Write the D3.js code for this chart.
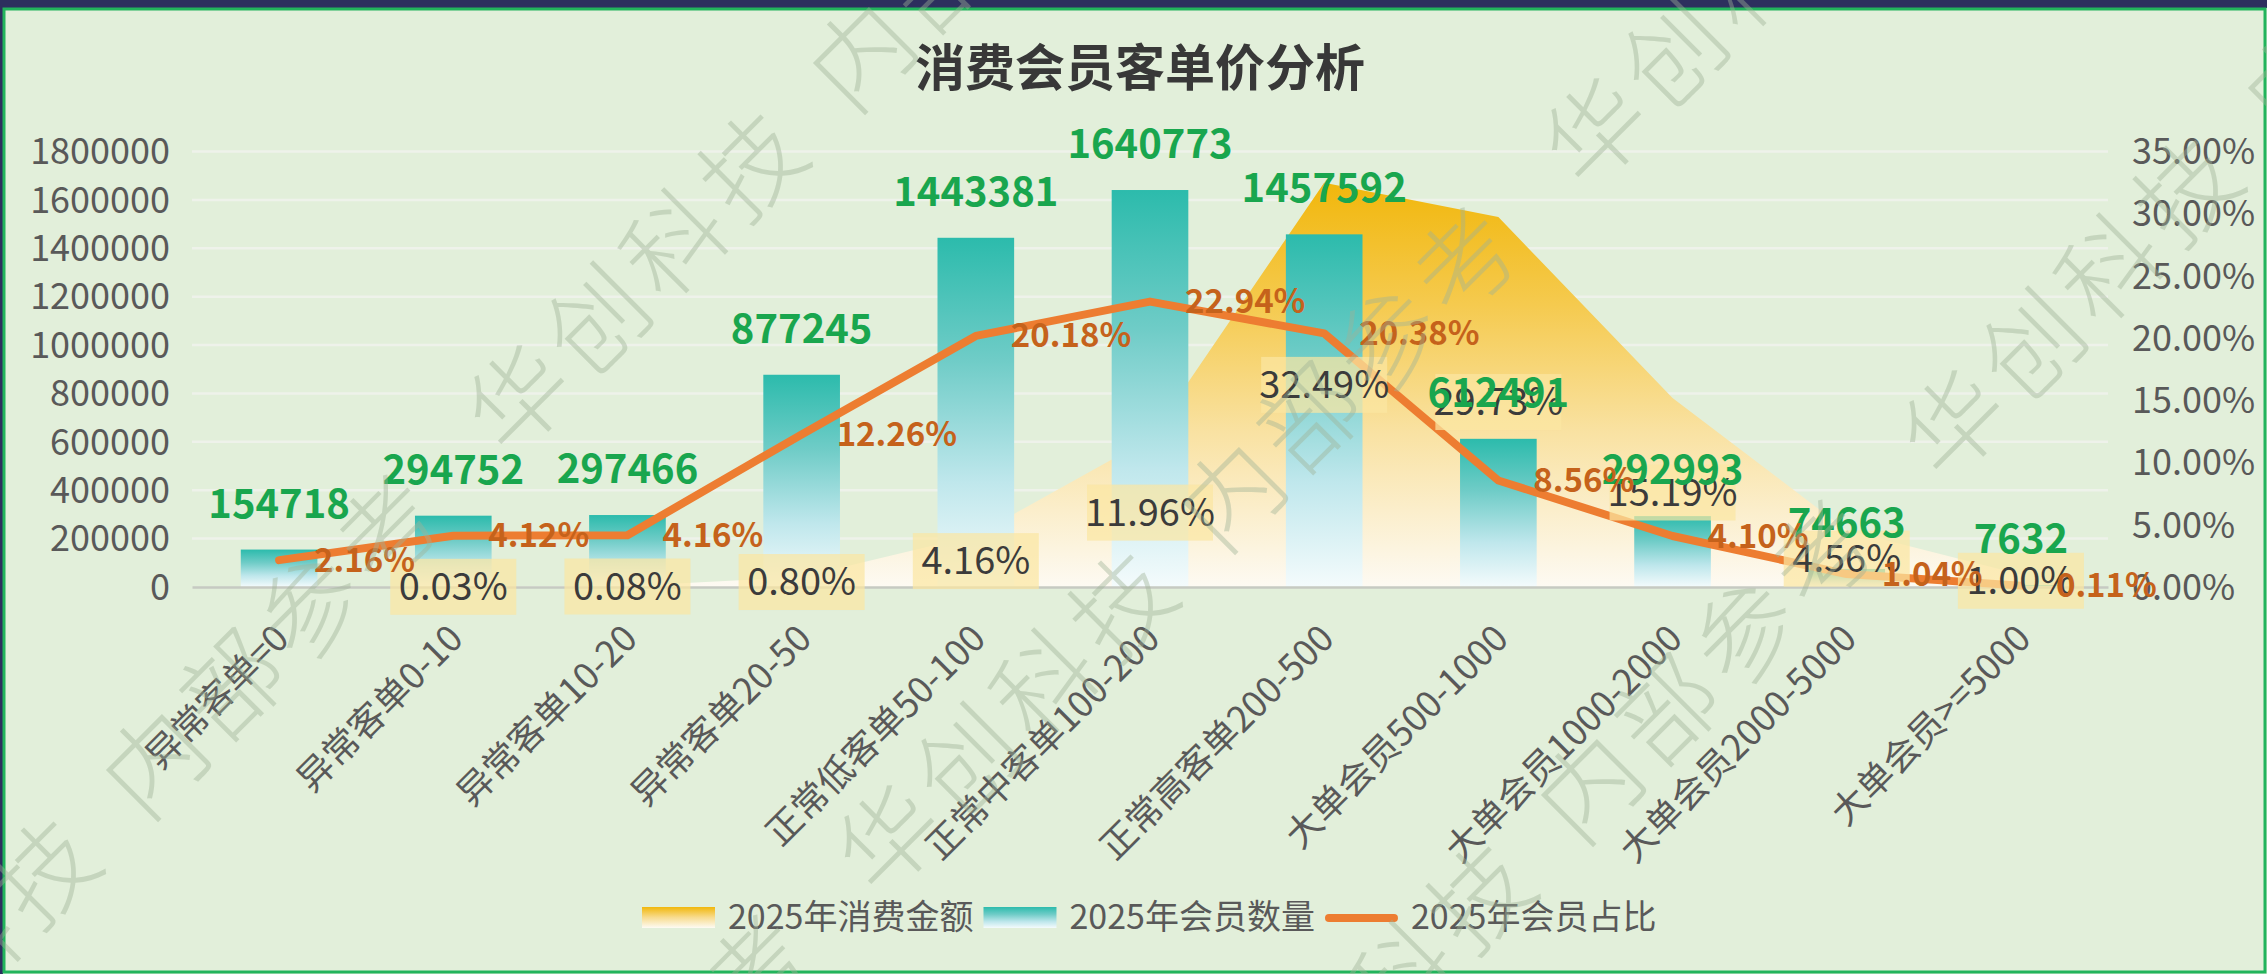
<!DOCTYPE html>
<html>
<head>
<meta charset="utf-8">
<script src="https://cdn.jsdelivr.net/npm/d3@7"></script>
<style>
  body { margin: 0; background: #e2efda; }
  svg text { font-family: "Noto Sans CJK SC", "Noto Sans", sans-serif; }
</style>
</head>
<body>
<svg id="chart" width="2267" height="974"></svg>
<script>
// ---- data ----
const categories = ["异常客单=0", "异常客单0-10", "异常客单10-20", "异常客单20-50", "正常低客单50-100",
    "正常中客单100-200", "正常高客单200-500", "大单会员500-1000", "大单会员1000-2000", "大单会员2000-5000", "大单会员>=5000"];
const memberCount = [154718, 294752, 297466, 877245, 1443381, 1640773, 1457592, 612491, 292993, 74663, 7632];
const memberShare = [0.0216, 0.0412, 0.0416, 0.1226, 0.2018, 0.2294, 0.2038, 0.0856, 0.0410, 0.0104, 0.0011];
const spendShare = [0, 0.0003, 0.0008, 0.0080, 0.0416, 0.1196, 0.3249, 0.2973, 0.1519, 0.0456, 0.0100];
const leftTicks = [0, 200000, 400000, 600000, 800000, 1000000, 1200000, 1400000, 1600000, 1800000];
const rightTicks = [0, 0.05, 0.10, 0.15, 0.20, 0.25, 0.30, 0.35];
const seriesNames = ["2025年消费金额", "2025年会员数量", "2025年会员占比"];
const title = "消费会员客单价分析";

const svg = d3.select("#chart");
const W = 2267, H = 974;
const plot = { left: 192, right: 2108, top: 151.5, bottom: 587 };

// background + frame
svg.append("rect").attr("width", W).attr("height", H).attr("fill", "#e2efda");
svg.append("rect").attr("x", 0).attr("y", 0).attr("width", W).attr("height", 8).attr("fill", "#2d2f5e");
svg.append("rect").attr("x", 0).attr("y", 0).attr("width", 3).attr("height", H).attr("fill", "#2d2f5e");
svg.append("rect").attr("x", 4).attr("y", 9).attr("width", W - 6).attr("height", H - 11)
    .attr("fill", "none").attr("stroke", "#22b45c").attr("stroke-width", 3);

// gradients
const defs = svg.append("defs");
const barGrad = defs.append("linearGradient").attr("id", "barGrad").attr("x1", 0).attr("y1", 0).attr("x2", 0).attr("y2", 1);
[[0, "#2cbbac"], [0.35, "#6fccc7"], [0.7, "#bfe7ec"], [1, "#f4fbfc"]].forEach(s =>
    barGrad.append("stop").attr("offset", s[0]).attr("stop-color", s[1]));
const areaGrad = defs.append("linearGradient").attr("id", "areaGrad").attr("x1", 0).attr("y1", 0).attr("x2", 0).attr("y2", 1);
[[0, "#f1b70c"], [0.3, "#f5ca4e"], [0.62, "#f9e2a3"], [1, "#fdfaf3"]].forEach(s =>
    areaGrad.append("stop").attr("offset", s[0]).attr("stop-color", s[1]));
const yelSw = defs.append("linearGradient").attr("id", "yelSw").attr("x1", 0).attr("y1", 0).attr("x2", 0).attr("y2", 1);
[[0, "#f1b70c"], [0.5, "#f8dc90"], [1, "#fdfbf4"]].forEach(s =>
    yelSw.append("stop").attr("offset", s[0]).attr("stop-color", s[1]));

// scales
const x = d3.scaleBand().domain(categories).range([plot.left, plot.right]).padding(0);
const cx = d => x(d) + x.bandwidth() / 2;
const yL = d3.scaleLinear().domain([0, 1800000]).range([plot.bottom, plot.top]);
const yR = d3.scaleLinear().domain([0, 0.35]).range([plot.bottom, plot.top]);
const barW = x.bandwidth() * 0.44;

// title
svg.append("text").attr("x", 1140).attr("y", 86).attr("text-anchor", "middle")
    .attr("font-size", 50).attr("font-weight", "bold").attr("fill", "#383838").text(title);

// gridlines
svg.append("g").selectAll("line").data(leftTicks.slice(1)).enter().append("line")
    .attr("x1", plot.left).attr("x2", plot.right)
    .attr("y1", d => yL(d)).attr("y2", d => yL(d))
    .attr("stroke", "#eef2ea").attr("stroke-width", 2.5);

// left axis
const gL = svg.append("g").attr("transform", "translate(" + plot.left + ",0)")
    .call(d3.axisLeft(yL).tickValues(leftTicks).tickSize(0).tickPadding(22).tickFormat(d3.format("d")));
gL.select(".domain").remove();
gL.selectAll("text").attr("font-size", 36).attr("fill", "#595959").attr("dy", "0.34em");

// right axis
const gR = svg.append("g").attr("transform", "translate(" + plot.right + ",0)")
    .call(d3.axisRight(yR).tickValues(rightTicks).tickSize(0).tickPadding(24).tickFormat(d3.format(".2%")));
gR.select(".domain").remove();
gR.selectAll("text").attr("font-size", 36).attr("fill", "#595959").attr("dy", "0.34em");

// area (consumption share)
const areaData = categories.map((c, i) => ({ c: c, v: spendShare[i] }));
svg.append("path").datum(areaData)
    .attr("fill", "url(#areaGrad)")
    .attr("d", d3.area().x(d => cx(d.c)).y0(plot.bottom).y1(d => yR(d.v)));

// bars (member count)
const barData = categories.map((c, i) => ({ c: c, v: memberCount[i] }));
svg.append("g").selectAll("rect").data(barData).enter().append("rect")
    .attr("x", d => cx(d.c) - barW / 2)
    .attr("y", d => yL(d.v))
    .attr("width", barW)
    .attr("height", d => plot.bottom - yL(d.v))
    .attr("fill", "url(#barGrad)");

// x axis
const gX = svg.append("g").attr("transform", "translate(0," + plot.bottom + ")")
    .call(d3.axisBottom(x).tickSize(0));
gX.select(".domain").attr("stroke", "#c6cac2").attr("stroke-width", 2.5);
gX.selectAll("text")
    .attr("font-size", 36).attr("fill", "#595959")
    .attr("text-anchor", "end")
    .attr("x", 0).attr("y", 0).attr("dy", "0.35em")
    .attr("transform", "translate(3,45) rotate(-45)");

// line (member share)
const lineData = categories.map((c, i) => ({ c: c, v: memberShare[i] }));
svg.append("path").datum(lineData)
    .attr("fill", "none").attr("stroke", "#ed7d31").attr("stroke-width", 8)
    .attr("stroke-linejoin", "round").attr("stroke-linecap", "round")
    .attr("d", d3.line().x(d => cx(d.c)).y(d => yR(d.v)));

// area labels: yellow boxes at middle of the area
const pct = d3.format(".2%");
const aLab = svg.append("g").selectAll("g").data(areaData.filter(d => d.v > 0)).enter().append("g")
    .attr("transform", d => "translate(" + cx(d.c) + "," + (yR(d.v) + plot.bottom) / 2 + ")");
aLab.append("rect").attr("x", -63).attr("y", -28).attr("width", 126).attr("height", 56)
    .attr("fill", "#fbe6a2").attr("opacity", 0.72);
aLab.append("text").attr("text-anchor", "middle").attr("dy", "0.35em")
    .attr("font-size", 38).attr("fill", "#3b3b3b").text(d => pct(d.v));

// bar labels
svg.append("g").selectAll("text").data(barData).enter().append("text")
    .attr("x", d => cx(d.c)).attr("y", d => yL(d.v) - 32)
    .attr("text-anchor", "middle").attr("font-size", 40).attr("font-weight", "bold")
    .attr("fill", "#19a64e").text(d => d.v);

// line labels
svg.append("g").selectAll("text").data(lineData).enter().append("text")
    .attr("x", d => cx(d.c) + 35).attr("y", d => yR(d.v)).attr("dy", "0.35em")
    .attr("font-size", 33).attr("font-weight", "bold")
    .attr("fill", "#c5621b").text(d => pct(d.v));

// legend
const lg = svg.append("g");
let lx = 642;
seriesNames.forEach((name, i) => {
    if (i === 0) {
        lg.append("rect").attr("x", lx).attr("y", 907).attr("width", 73).attr("height", 21).attr("fill", "url(#yelSw)");
    } else if (i === 1) {
        lg.append("rect").attr("x", lx).attr("y", 907).attr("width", 73).attr("height", 21).attr("fill", "url(#barGrad)");
    } else {
        lg.append("line").attr("x1", lx + 4).attr("x2", lx + 69).attr("y1", 918).attr("y2", 918)
            .attr("stroke", "#ed7d31").attr("stroke-width", 8).attr("stroke-linecap", "round");
    }
    const t = lg.append("text").attr("x", lx + 86).attr("y", 929)
        .attr("font-size", 34).attr("fill", "#595959").text(name);
    lx += 86 + t.node().getComputedTextLength() + 10;
});

// watermark
const wm = "华创科技 内部参考 ";
const wmAnchors = [[520, 400], [890, 840], [1955, 425]];
const wmG = svg.append("g").attr("pointer-events", "none");
const ang = -45 * Math.PI / 180;
wmAnchors.forEach(a => {
    for (let k = -3; k < 3; k++) {
        let off = k * 1000;
        for (let j = 0; j < wm.length; j++) {
            const ch = wm[j];
            if (ch !== " ") {
                const px = a[0] + off * Math.cos(ang), py = a[1] + off * Math.sin(ang);
                if (px > -100 && px < W + 100 && py > -100 && py < H + 100) {
                    wmG.append("text").attr("transform", "translate(" + px + "," + py + ") rotate(-45)")
                        .attr("text-anchor", "middle").attr("dy", "0.35em")
                        .attr("font-size", 100).attr("font-weight", 300)
                        .attr("fill", "#9fb397").attr("opacity", 0.42).text(ch);
                }
                off += 110;
            } else {
                off += 45;
            }
        }
    }
});
</script>
</body>
</html>
